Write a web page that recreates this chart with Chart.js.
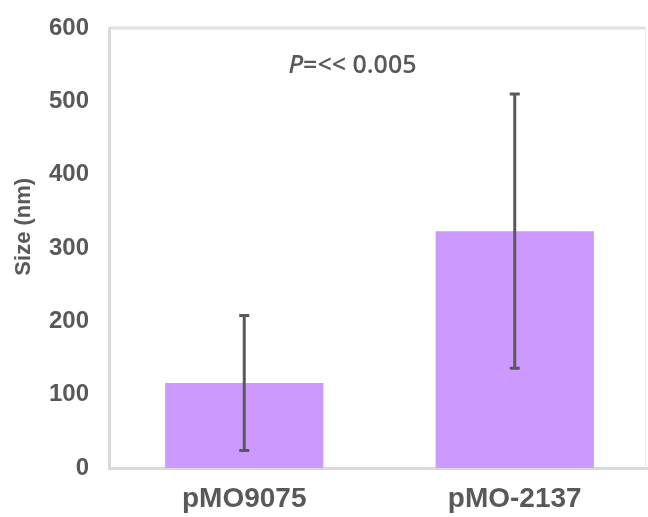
<!DOCTYPE html>
<html>
<head>
<meta charset="utf-8">
<script src="https://cdn.jsdelivr.net/npm/chart.js@4.4.1/dist/chart.umd.min.js"></script>
<style>
html,body{margin:0;padding:0;background:#fff;overflow:hidden;}
canvas{display:block;}
</style>
</head>
<body>
<canvas id="c" width="650" height="517"></canvas>
<script>
const categories = ["pMO9075", "pMO-2137"];
const sizeMeans = [116, 323];
const sizeErrors = [92, 187];
const yTicks = [0, 100, 200, 300, 400, 500, 600];
const annotationText = "0.005";
const yTitle = "Size (nm)";

const TEXT = "#595959";
const FONT = "'Liberation Sans', Arial, sans-serif";
const ANN_FONT = "'Open Sans', 'Liberation Sans', sans-serif";

const errorBars = {
  id: "errorBars",
  afterDatasetsDraw(chart) {
    const ctx = chart.ctx;
    const y = chart.scales.y;
    const meta = chart.getDatasetMeta(0);
    ctx.save();
    ctx.strokeStyle = TEXT;
    ctx.lineWidth = 3;
    meta.data.forEach((bar, i) => {
      const x = bar.x;
      const top = y.getPixelForValue(sizeMeans[i] + sizeErrors[i]);
      const bot = y.getPixelForValue(sizeMeans[i] - sizeErrors[i]);
      ctx.beginPath();
      ctx.moveTo(x, top); ctx.lineTo(x, bot);
      ctx.moveTo(x - 5, top); ctx.lineTo(x + 5, top);
      ctx.moveTo(x - 5, bot); ctx.lineTo(x + 5, bot);
      ctx.stroke();
    });
    ctx.restore();
  }
};

const frameAndText = {
  id: "frameAndText",
  beforeDatasetsDraw(chart) {
    const ctx = chart.ctx;
    const a = chart.chartArea;
    ctx.save();
    ctx.strokeStyle = "#e2e2e2";
    ctx.lineWidth = 3;
    ctx.beginPath();
    ctx.moveTo(a.left, a.top); ctx.lineTo(646, a.top);
    ctx.stroke();
    ctx.strokeStyle = "#ececec";
    ctx.lineWidth = 1;
    ctx.beginPath();
    ctx.moveTo(645.5, a.top); ctx.lineTo(645.5, a.bottom);
    ctx.stroke();
    ctx.restore();
  },
  afterDraw(chart) {
    const ctx = chart.ctx;
    const x = chart.scales.x, y = chart.scales.y;
    ctx.save();
    ctx.fillStyle = TEXT;
    // annotation
    const ax = x.getPixelForValue(0) + 0.4 * (x.getPixelForValue(1) - x.getPixelForValue(0));
    const ay = y.getPixelForValue(548);
    ctx.textBaseline = "middle";
    ctx.font = "italic 600 25px " + ANN_FONT;
    const pW = ctx.measureText("P").width;
    ctx.font = "600 25px " + ANN_FONT;
    const restStr = "=<< " + annotationText;
    const rW = ctx.measureText(restStr).width;
    const start = ax - (pW + rW) / 2;
    ctx.font = "italic 600 25px " + ANN_FONT;
    ctx.textAlign = "left";
    ctx.fillText("P", start, ay);
    ctx.font = "600 25px " + ANN_FONT;
    ctx.fillText(restStr, start + pW, ay);
    // y title
    ctx.translate(24, y.getPixelForValue(329));
    ctx.rotate(-Math.PI / 2);
    ctx.textAlign = "center";
    ctx.font = "bold 22px " + FONT;
    ctx.fillText(yTitle, 0, 0);
    ctx.restore();
  }
};

new Chart(document.getElementById("c"), {
  type: "bar",
  data: {
    labels: categories,
    datasets: [{
      data: sizeMeans,
      backgroundColor: "#cc99ff",
      borderWidth: 0,
      categoryPercentage: 1.0,
      barPercentage: 0.585
    }]
  },
  options: {
    responsive: false,
    animation: false,
    devicePixelRatio: 1,
    layout: { padding: { top: 28, right: 0, bottom: 0, left: 0 } },
    plugins: { legend: { display: false }, tooltip: { enabled: false } },
    scales: {
      x: {
        grid: { display: false, drawTicks: false },
        border: { display: true, color: "#d9d9d9", width: 3 },
        ticks: { color: TEXT, font: { family: FONT, size: 28, weight: "bold" }, padding: 14, maxRotation: 0 },
        afterFit(s) { s.height = 49; s.paddingLeft = 0; s.paddingRight = 0; }
      },
      y: {
        min: 0, max: 600,
        afterBuildTicks(s) { s.ticks = yTicks.map(v => ({ value: v })); },
        grid: { display: false, drawTicks: false },
        border: { display: true, color: "#d9d9d9", width: 3 },
        ticks: { color: TEXT, font: { family: FONT, size: 24, weight: "bold" }, padding: 20 },
        afterFit(s) { s.width = 109; s.paddingTop = 0; s.paddingBottom = 0; }
      }
    }
  },
  plugins: [frameAndText, errorBars]
});
</script>
</body>
</html>
